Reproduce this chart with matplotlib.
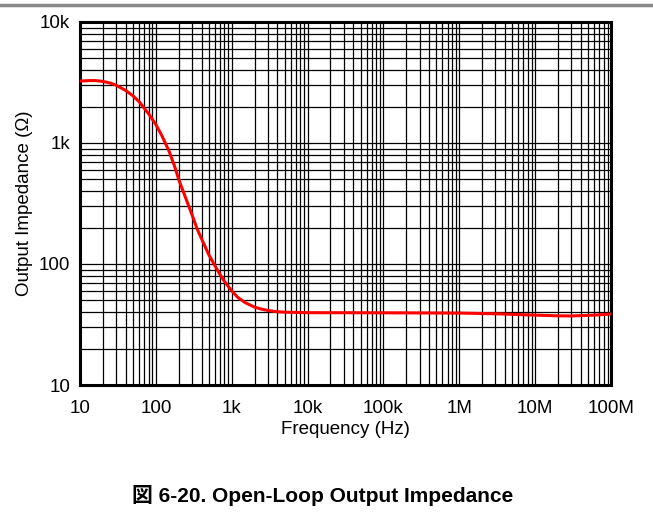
import matplotlib
matplotlib.use("Agg")
import matplotlib.pyplot as plt
from matplotlib.lines import Line2D
from matplotlib.ticker import FixedLocator, LogLocator, NullFormatter

plt.rcParams['font.family'] = ['Liberation Sans', 'Noto Sans CJK JP', 'DejaVu Sans']

freq = [10, 13, 16, 20, 25, 30, 40, 50, 60, 80, 100, 120, 150, 180, 200, 250, 300,
        350, 400, 500, 600, 700, 800, 1000, 1200, 1500, 2000, 2500, 3000, 4000, 5000,
        1e4, 1e5, 1e6, 3e6, 1e7, 2e7, 3e7, 6e7, 1e8]
impedance = [3250, 3280, 3280, 3230, 3130, 3000, 2720, 2450, 2200, 1750, 1420, 1150, 850,
             620, 500, 345, 255, 195, 162, 119, 97, 82, 72, 60, 53, 48, 44, 42.3, 41.3,
             40.3, 40, 39.6, 39.5, 39.3, 38.8, 37.8, 37.3, 37.2, 37.8, 38.6]

xticks = [10, 100, 1e3, 1e4, 1e5, 1e6, 1e7, 1e8]
xlabels = ['10', '100', '1k', '10k', '100k', '1M', '10M', '100M']
yticks = [10, 100, 1e3, 1e4]
ylabels = ['10', '100', '1k', '10k']

fig = plt.figure(figsize=(6.53, 5.19), dpi=100)
W, H = 653, 519
left, right, top, bottom = 80, 611, 22, 385
ax = fig.add_axes([left / W, 1 - bottom / H, (right - left) / W, (bottom - top) / H])

ax.set_xscale('log')
ax.set_yscale('log')
ax.set_xlim(10, 1e8)
ax.set_ylim(10, 1e4)

ax.xaxis.set_major_locator(FixedLocator(xticks))
ax.set_xticklabels(xlabels)
ax.yaxis.set_major_locator(FixedLocator(yticks))
ax.set_yticklabels(ylabels)
ax.xaxis.set_minor_locator(LogLocator(base=10, subs=range(2, 10), numticks=20))
ax.yaxis.set_minor_locator(LogLocator(base=10, subs=range(2, 10), numticks=20))
ax.xaxis.set_minor_formatter(NullFormatter())
ax.yaxis.set_minor_formatter(NullFormatter())

ax.grid(True, which='both', color='black', linewidth=0.9)
ax.set_axisbelow(True)
ax.tick_params(which='both', length=0, labelsize=13.5, colors='black')
ax.tick_params(axis='x', pad=11)
ax.tick_params(axis='y', pad=7)
for s in ax.spines.values():
    s.set_linewidth(2.2)
    s.set_color('black')

ax.plot(freq, impedance, color='#ff0000', linewidth=2.2, zorder=5)

ax.set_xlabel('Frequency (Hz)', fontsize=13.5, labelpad=2.5)
ax.set_ylabel('Output Impedance (Ω)', fontsize=13.5, labelpad=4)

fig.add_artist(Line2D([0, 1], [1 - 5 / H, 1 - 5 / H], color='#888888', linewidth=2.5,
                      transform=fig.transFigure))
fig.text(132 / W, 1 - 496 / H, '図 6-20. Open-Loop Output Impedance', ha='left', va='center',
         fontsize=15, fontweight='bold')

fig.savefig('out.png', dpi=100)
